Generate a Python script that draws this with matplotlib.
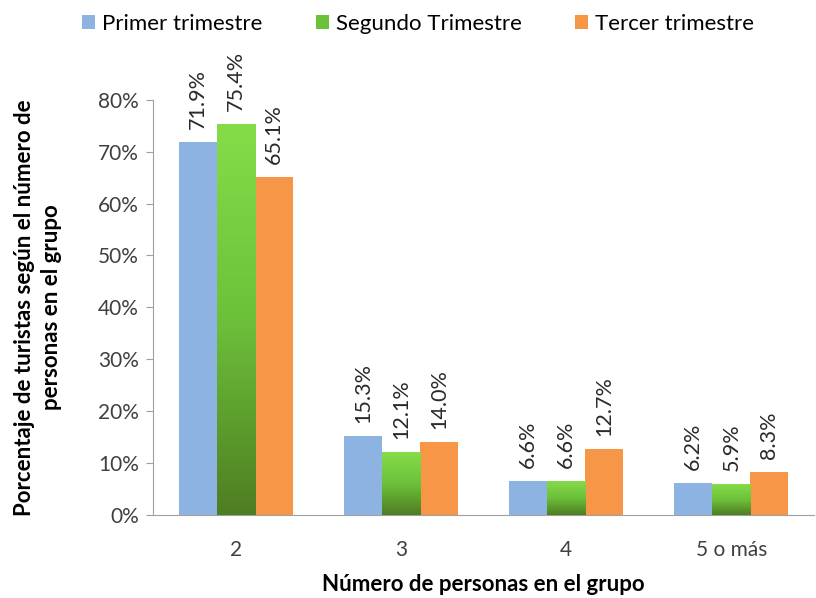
import numpy as np
import matplotlib.pyplot as plt
from matplotlib.patches import Patch
from matplotlib.colors import LinearSegmentedColormap

plt.rcParams['font.family'] = ['Lato', 'DejaVu Sans']

categorias = ['2', '3', '4', '5 o más']
series = ['Primer trimestre', 'Segundo Trimestre', 'Tercer trimestre']
primer = [71.9, 15.3, 6.6, 6.2]
segundo = [75.4, 12.1, 6.6, 5.9]
tercer = [65.1, 14.0, 12.7, 8.3]
valores = [primer, segundo, tercer]
colores = ['#8db3e2', '#6cc13a', '#f79646']

fig = plt.figure(figsize=(8.16, 5.98), dpi=100)
ax = fig.add_axes([0.1875, 0.139, 0.81, 0.694])

x = np.arange(len(categorias))
w = 0.23
cmap = LinearSegmentedColormap.from_list('g', ['#4f7d22', '#6cc13a', '#86dc48'])
grad = np.linspace(0, 1, 256).reshape(-1, 1)
for i, (vals, col) in enumerate(zip(valores, colores)):
    pos = x + (i - 1) * w
    bars = ax.bar(pos, vals, width=w, color=col, edgecolor='none', zorder=2)
    if i == 1:
        # green bars have a dark-to-light gradient
        for b in bars:
            bx, by = b.get_x(), b.get_y()
            bw, bh = b.get_width(), b.get_height()
            im = ax.imshow(grad, extent=[bx, bx + bw, by, by + bh], origin='lower',
                           cmap=cmap, aspect='auto', zorder=3)
            im.set_clip_path(b)
    for p, v in zip(pos, vals):
        ax.text(p, v + 2.5, f'{v:.1f}%', rotation=90, ha='center', va='bottom',
                fontsize=15.5, color='#2a2a2a', zorder=4)

ax.set_xlim(-0.5, len(categorias) - 0.5)
ax.set_ylim(0, 80)
ax.set_yticks(np.arange(0, 81, 10))
ax.set_yticklabels([f'{t}%' for t in range(0, 81, 10)], fontsize=15)
ax.set_xticks(x)
ax.set_xticklabels(categorias, fontsize=15)
ax.tick_params(axis='x', length=0, pad=18, labelcolor='#404040')
ax.tick_params(axis='y', length=5, color='#a0a0a0', pad=5, labelcolor='#404040')
for s in ['top', 'right']:
    ax.spines[s].set_visible(False)
ax.spines['left'].set_color('#a0a0a0')
ax.spines['bottom'].set_color('#a0a0a0')

ax.set_xlabel('Número de personas en el grupo', fontsize=16, fontweight='bold', labelpad=10)
ax.set_ylabel('Porcentaje de turistas según el número de\npersonas en el grupo',
              fontsize=16, fontweight='bold', labelpad=26, linespacing=1.35)

handles = [Patch(facecolor=c, edgecolor='none') for c in colores]
fig.legend(handles, series, loc='upper center', bbox_to_anchor=(0.512, 1.01), ncol=3,
           frameon=False, fontsize=16, handlelength=0.6, handleheight=0.6,
           handletextpad=0.3, columnspacing=2.4)

fig.savefig('out.png', dpi=100)
